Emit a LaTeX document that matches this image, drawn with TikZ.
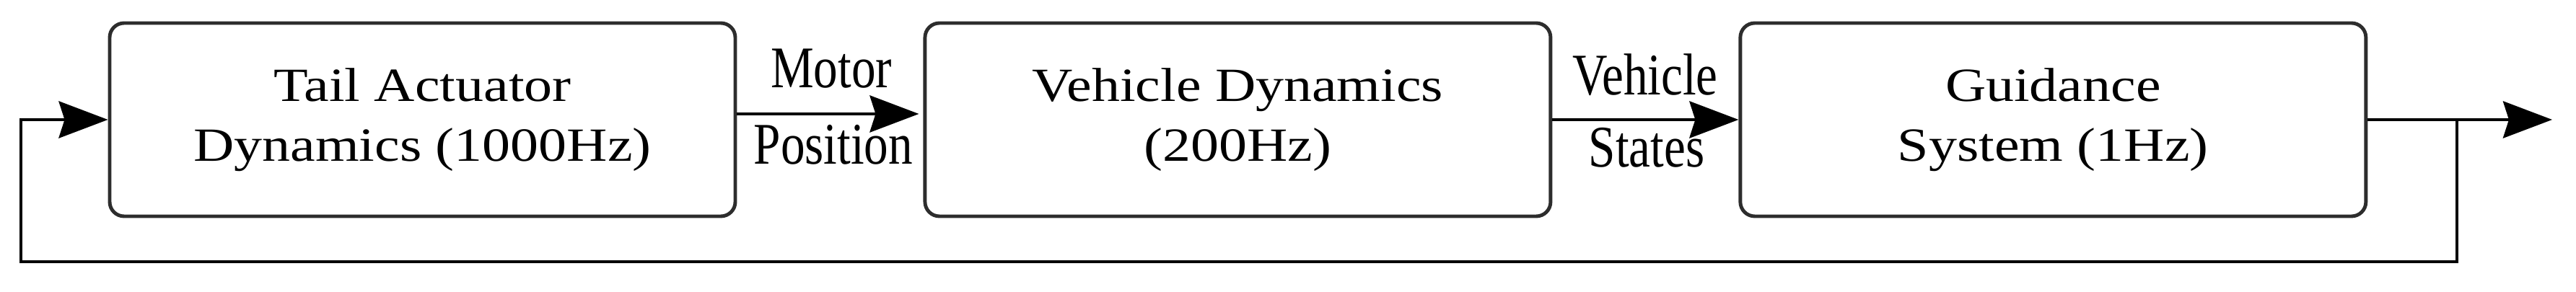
\documentclass[tikz,border=0pt]{standalone}
\usepackage{fontspec}
\setmainfont{Liberation Serif}
\newfontfamily\blockfont[FakeStretch=1.18]{Liberation Serif}
\newfontfamily\labelfont[FakeStretch=0.82]{Liberation Serif}
\usetikzlibrary{arrows.meta, positioning}
\definecolor{BoxEdge}{RGB}{45,45,45}

\begin{document}
\begin{tikzpicture}[
		node distance=2.58cm,
		block/.style={
			rectangle, rounded corners=2mm, draw=BoxEdge, line width=1.4pt,
			minimum width=8.67cm, minimum height=2.68cm,
			align=center, inner sep=0pt,
			font=\blockfont\fontsize{18.8pt}{23.6pt}\selectfont
		},
		flowLabel/.style={inner sep=0pt, anchor=base, font=\labelfont\fontsize{23.3pt}{28pt}\selectfont},
		arrow/.style={-{Stealth[length=6.8mm, width=5.1mm, inset=0.8mm]}, line width=1.3pt}
		]
		\useasboundingbox (0,0) rectangle (35.7,4.05);
		
		\node[block] (tail) at (5.855,2.39) {Tail Actuator \\ Dynamics (1000Hz)};
		\node[block] (vehicle) [right=of tail] {Vehicle Dynamics \\ (200Hz)};
		\node[block] (guidance) [right=of vehicle] {Guidance \\ System (1Hz)};
		
		\node[flowLabel] (motorTop) at (11.52,2.83) {Motor};
		\node[flowLabel] (motorBot) at (11.55,1.77) {Position};
		\node[flowLabel] (statesTop) at (22.8,2.73) {Vehicle};
		\node[flowLabel] (statesBot) at (22.82,1.73) {States};
		
		\coordinate (split) at (34.05,2.39);
		\coordinate (outEnd) at (35.37,2.39);
		\coordinate (loopRight) at (34.05,0.42);
		\coordinate (loopLeft) at (0.29,0.42);
		
		\draw [arrow, shorten >=0.6mm] ([yshift=0.8mm]tail.east) -- ([yshift=0.8mm]vehicle.west);
		\draw [arrow] (vehicle) -- (guidance);
		\draw [arrow] (guidance) -- (outEnd);
		\draw [arrow] (split) -- (loopRight) -- (loopLeft) |- (tail.west);
	\end{tikzpicture}
\end{document}
